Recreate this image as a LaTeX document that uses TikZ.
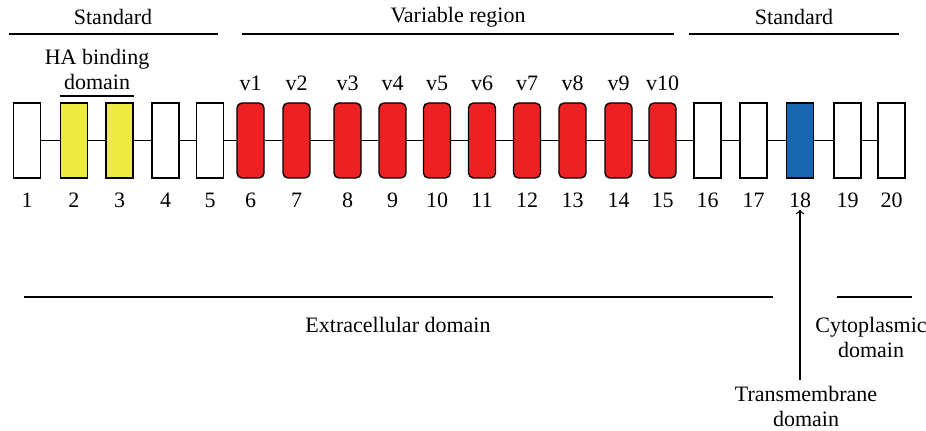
\documentclass[tikz,border=0pt]{standalone}
\usepackage{fontspec}
\setmainfont{Liberation Serif}
\definecolor{hayellow}{RGB}{238,234,64}
\definecolor{varred}{RGB}{237,33,36}
\definecolor{tmblue}{RGB}{22,102,176}
\tikzset{
	exon/.style={draw, line width=0.7pt, minimum width=13.5pt, minimum height=37.5pt, inner sep=0pt, fill=white},
	varexon/.style={exon, fill=varred, rounded corners=2.5pt},
	lbl/.style={font=\fontsize{11}{12.5}\selectfont, align=center, inner sep=1pt},
	rule/.style={line width=0.6pt}
}
\begin{document}
\begin{tikzpicture}[x=0.5pt, y=-0.5pt]
	\useasboundingbox (0,0) rectangle (926,431);
	% exons with their numbers
	\foreach \x/\i in {27/1, 74/2, 119.5/3, 165.5/4, 210/5, 250.5/6, 296.5/7, 347.5/8, 392.5/9, 437/10,
		482/11, 527/12, 572.5/13, 618.5/14, 662.5/15, 707.5/16, 753.5/17, 800/18, 847.5/19, 891.5/20} {
		\ifnum\i>5 \ifnum\i<16
			\node [varexon] (e\i) at (\x,140.5) {};
			\pgfmathtruncatemacro{\v}{\i-5}
			\node [lbl] (v\i) at (\x,83) {v\v};
		\else
			\node [exon] (e\i) at (\x,140.5) {};
		\fi \else
			\node [exon] (e\i) at (\x,140.5) {};
		\fi
		\node [lbl] (n\i) at (\x,200) {\i};
	}
	\node [exon, fill=hayellow] at (e2) {};
	\node [exon, fill=hayellow] at (e3) {};
	\node [exon, fill=tmblue] at (e18) {};
	% introns
	\foreach \i [evaluate=\i as \j using int(\i+1)] in {1,...,19}
		\draw [rule] (e\i.east) -- (e\j.west);
	% regions above
	\node [lbl] (std1) at (113,17) {Standard};
	\draw [rule] (9,34) -- (218,34);
	\node [lbl] (var) at (458,17) {Variable region};
	\draw [rule] (242,34) -- (674,34);
	\node [lbl] (std2) at (794,17) {Standard};
	\draw [rule] (689,34) -- (899,34);
	\node [lbl] (ha) at (97,69) {HA binding\\domain};
	\draw [rule] (60,96) -- (134,96);
	% domains below
	\draw [rule] (24,297) -- (773,297);
	\node [lbl] (extra) at (398,325) {Extracellular domain};
	\draw [rule] (837,297) -- (912,297);
	\node [lbl] (cyto) at (871,337) {Cytoplasmic\\domain};
	\coordinate (tmfoot) at (800,380);
	\draw [rule, ->] (tmfoot) -- (n18.south);
	\node [lbl] (tm) at (806,406) {Transmembrane\\domain};
\end{tikzpicture}
\end{document}
